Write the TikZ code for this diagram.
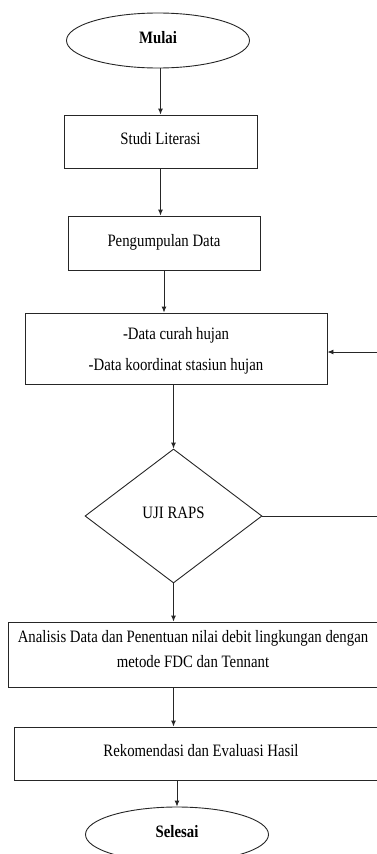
\documentclass[tikz,border=0pt]{standalone}
\usepackage{fontspec}
\setmainfont{Liberation Serif}[FakeStretch=0.85]
\usetikzlibrary{shapes.geometric,arrows.meta}
\begin{document}
\begin{tikzpicture}[x=1pt,y=-1pt,
  line/.style={draw=black!85, line width=0.9pt},
  arr/.style={line, -{Latex[length=6pt,width=5pt]}},
  txt/.style={font=\fontsize{17.4}{31}\selectfont, inner sep=0pt},
  proc/.style={line, txt, rectangle, align=center},
  term/.style={line, txt, ellipse, font=\fontsize{17.4}{31}\selectfont\bfseries},
  decide/.style={line, txt, diamond}]
\useasboundingbox (0,0) rectangle (377,854);
\clip (0,0) rectangle (377,854);

% terminals, process boxes and the decision
\node[term, minimum width=183pt, minimum height=55pt] (mulai) at (158,40.5) {\raisebox{6pt}{Mulai}};
\node[proc, minimum width=193pt, minimum height=53pt] (studi) at (160.5,141.5) {\raisebox{5.5pt}{Studi Literasi}};
\node[proc, minimum width=192pt, minimum height=54pt] (kumpul) at (164,243) {\raisebox{6pt}{Pengumpulan Data}};
\node[proc, minimum width=302pt, minimum height=71pt] (data) at (176,348.5)
  {\raisebox{5pt}{\begin{tabular}{@{}c@{}}-Data curah hujan\\-Data koordinat stasiun hujan\end{tabular}}};
\node[decide, minimum width=177pt, minimum height=134pt] (raps) at (173.5,516) {\raisebox{7pt}{UJI RAPS}};
\node[proc, minimum width=382pt, minimum height=65pt] (ana) at (199,654.5) {};
\node[txt, align=center, font=\fontsize{17.4}{25}\selectfont] (anatext) at (193,649.5)
  {Analisis Data dan Penentuan nilai debit lingkungan dengan\\metode FDC dan Tennant};
\node[proc, minimum width=374pt, minimum height=53pt] (rekom) at (201,753.5) {\raisebox{5.5pt}{Rekomendasi dan Evaluasi Hasil}};
\node[term, minimum width=183pt, minimum height=55pt] (selesai) at (177,834.5) {\raisebox{7pt}{Selesai}};

% main flow
\draw[arr] (mulai.south -| studi.north) -- (studi.north);
\draw[arr] (studi.south) -- (studi.south |- kumpul.north);
\draw[arr] (kumpul.south) -- (kumpul.south |- data.north);
\draw[arr] (raps.north |- data.south) -- (raps.north);
\draw[arr] (raps.south) -- (raps.south |- ana.north);
\draw[arr] (raps.south |- ana.south) -- (raps.south |- rekom.north);
\draw[arr] (rekom.south -| selesai.north) -- (selesai.north);

% loop back from the test to the data box
\coordinate (loopx) at (392,516);
\coordinate (loopin) at (392,352);
\draw[line] (raps.east) -- (loopx) -- (loopin);
\draw[arr] (loopin) -- (loopin -| data.east);
\end{tikzpicture}
\end{document}
